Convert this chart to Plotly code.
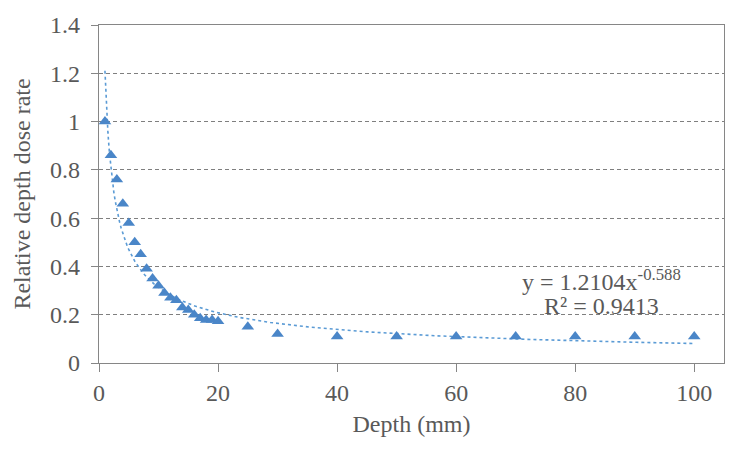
import numpy as np
import plotly.graph_objects as go

# Measured data
depth_mm = [1, 2, 3, 4, 5, 6, 7, 8, 9, 10, 11, 12, 13, 14, 15, 16, 17, 18, 19, 20,
            25, 30, 40, 50, 60, 70, 80, 90, 100]
dose_rate = [1.0, 0.86, 0.76, 0.66, 0.58, 0.50, 0.45, 0.39, 0.35, 0.32, 0.29, 0.27, 0.26,
             0.23, 0.22, 0.20, 0.185, 0.178, 0.178, 0.173,
             0.15, 0.12, 0.11, 0.11, 0.11, 0.11, 0.11, 0.11, 0.11]

# Power trendline as displayed on the chart
TREND_A = 1.2104
TREND_B = -0.588
R2 = 0.9413

x_ticks = [0, 20, 40, 60, 80, 100]
y_ticks = [0, 0.2, 0.4, 0.6, 0.8, 1.0, 1.2, 1.4]
y_tick_text = ["0", "0.2", "0.4", "0.6", "0.8", "1", "1.2", "1.4"]

trend_x = np.linspace(1, 100, 400)
trend_y = TREND_A * trend_x ** TREND_B

FONT = "Liberation Serif"
TXT = "#595959"
AX = "#868686"

fig = go.Figure()
fig.add_trace(go.Scatter(x=trend_x, y=trend_y, mode="lines",
                         line=dict(color="#5B9BD5", width=1.6, dash="dot"),
                         hoverinfo="skip", showlegend=False))
fig.add_trace(go.Scatter(x=depth_mm, y=dose_rate, mode="markers",
                         marker=dict(symbol="triangle-up", size=11, color="#4A86C8"),
                         showlegend=False))

fig.add_annotation(x=84.5, y=0.345, xref="x", yref="y",
                   text=f"y = {TREND_A}x<sup>{TREND_B}</sup>", showarrow=False,
                   font=dict(family=FONT, size=24, color=TXT))
fig.add_annotation(x=84.5, y=0.236, xref="x", yref="y",
                   text=f"R² = {R2}", showarrow=False,
                   font=dict(family=FONT, size=24, color=TXT))

fig.update_layout(
    width=756, height=454,
    margin=dict(l=98.5, r=32, t=20, b=90.5),
    paper_bgcolor="white", plot_bgcolor="white",
    font=dict(family=FONT, size=24, color=TXT),
)
fig.update_xaxes(range=[0, 105], tickvals=x_ticks, ticks="outside", ticklen=8,
                 tickcolor=AX, showline=True, linecolor=AX, linewidth=1.2, mirror=True,
                 showgrid=False, zeroline=False,
                 title=dict(text="Depth (mm)", font=dict(family=FONT, size=24, color=TXT), standoff=10),
                 tickfont=dict(family=FONT, size=24, color=TXT))
fig.update_yaxes(range=[0, 1.4], tickvals=y_ticks, ticktext=y_tick_text, ticks="outside", ticklen=7,
                 tickcolor=AX, showline=True, linecolor=AX, linewidth=1.2, mirror=True,
                 showgrid=True, gridcolor="#7f7f7f", gridwidth=1, griddash="4px,3px",
                 zeroline=False,
                 title=dict(text="Relative depth dose rate", font=dict(family=FONT, size=24, color=TXT), standoff=12),
                 tickfont=dict(family=FONT, size=24, color=TXT), ticklabelstandoff=6)

fig.write_html("out.html")
